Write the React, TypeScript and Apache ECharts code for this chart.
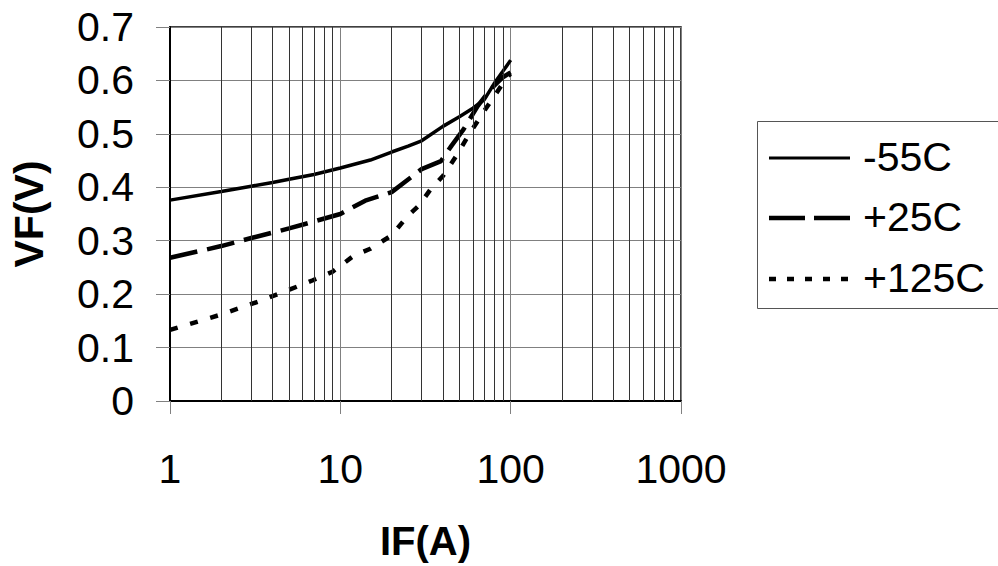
import React, { useEffect, useRef } from "react";
import * as echarts from "echarts";

const seriesNames = ["-55C", "+25C", "+125C"];

const ifMinus55 = [1, 2, 3, 4, 5, 7, 10, 15, 20, 25, 30, 40, 50, 60, 70, 80, 90, 100];
const vfMinus55 = [0.376, 0.392, 0.402, 0.409, 0.415, 0.424, 0.436, 0.451, 0.466, 0.477, 0.487, 0.514, 0.532, 0.548, 0.564, 0.594, 0.617, 0.638];

const ifPlus25 = [1, 2, 3, 5, 7, 10, 14, 20, 30, 39, 45, 53, 64, 76, 90, 100];
const vfPlus25 = [0.268, 0.29, 0.305, 0.323, 0.336, 0.35, 0.375, 0.391, 0.434, 0.449, 0.478, 0.509, 0.552, 0.583, 0.606, 0.615];

const ifPlus125 = [1, 2, 3.3, 4.9, 6.9, 9, 12, 15, 20, 25, 29, 34, 40, 48, 58, 71, 80, 96, 100];
const vfPlus125 = [0.133, 0.162, 0.186, 0.207, 0.226, 0.242, 0.272, 0.285, 0.31, 0.347, 0.366, 0.397, 0.421, 0.459, 0.503, 0.546, 0.57, 0.608, 0.612];

const minorGridValues = [2, 3, 4, 5, 6, 7, 8, 9, 20, 30, 40, 50, 60, 70, 80, 90, 200, 300, 400, 500, 600, 700, 800, 900];

const xTitle = "IF(A)";
const yTitle = "VF(V)";

const FONT = "Arial, 'Liberation Sans', sans-serif";

const lineWidths = [3.5, 4.5, 4.5];
const plotDashes: (number[] | "solid")[] = ["solid", [28, 10], [8, 13]];
const legendDashes: (number[] | null)[] = [null, [36, 9], [7, 11]];

function pairs(xs: number[], ys: number[]) {
  return xs.map((x, i) => [x, ys[i]]);
}

export default function App() {
  const ref = useRef<HTMLDivElement>(null);

  useEffect(() => {
    if (!ref.current) return;
    const chart = echarts.init(ref.current, undefined, { renderer: "svg" });

    const legendRowY = [158, 218, 279];
    const legendGraphics: any[] = [
      {
        type: "rect",
        left: 757,
        top: 121,
        shape: { width: 270, height: 187 },
        style: { fill: "#fff", stroke: "#555", lineWidth: 1 },
        z: 10,
      },
    ];
    seriesNames.forEach((name, i) => {
      legendGraphics.push({
        type: "line",
        shape: { x1: 769, y1: legendRowY[i], x2: 850, y2: legendRowY[i] },
        style: {
          stroke: "#000",
          lineWidth: i === 0 ? 3 : 4.5,
          lineDash: legendDashes[i] || undefined,
        },
        z: 11,
      });
      legendGraphics.push({
        type: "text",
        x: 863,
        y: legendRowY[i] - 1,
        style: {
          text: name,
          font: `41px ${FONT}`,
          fill: "#000",
          textAlign: "left",
          textVerticalAlign: "middle",
          verticalAlign: "middle",
        },
        z: 11,
      });
    });

    chart.setOption({
      animation: false,
      backgroundColor: "#fff",
      textStyle: { fontFamily: FONT },
      grid: {
        left: 169,
        right: 317,
        top: 27,
        bottom: 163,
        show: true,
        borderColor: "#000",
        borderWidth: 1.5,
        containLabel: false,
      },
      graphic: legendGraphics,
      xAxis: {
        type: "log",
        logBase: 10,
        min: 1,
        max: 1000,
        name: xTitle,
        nameLocation: "middle",
        nameGap: 120,
        nameTextStyle: { fontSize: 40, fontWeight: "bold", color: "#000", fontFamily: FONT },
        axisLine: { show: true, lineStyle: { color: "#000", width: 2 } },
        axisTick: { show: true, inside: false, length: 13, lineStyle: { color: "#808080", width: 1 } },
        axisLabel: {
          fontSize: 41,
          color: "#000",
          margin: 47,
          fontFamily: FONT,
          formatter: (v: number) => String(Math.round(v)),
        },
        splitLine: { show: true, lineStyle: { color: "#808080", width: 1 } },
        minorTick: { show: false },
        minorSplitLine: { show: false },
      },
      yAxis: {
        type: "value",
        min: 0,
        max: 0.7,
        interval: 0.1,
        name: yTitle,
        nameLocation: "middle",
        nameGap: 121,
        nameRotate: 90,
        nameTextStyle: { fontSize: 41, fontWeight: "bold", color: "#000", fontFamily: FONT },
        axisLine: { show: true, lineStyle: { color: "#000", width: 2 } },
        axisTick: { show: true, inside: false, length: 14, lineStyle: { color: "#808080", width: 1 } },
        axisLabel: {
          fontSize: 41,
          color: "#000",
          margin: 36,
          fontFamily: FONT,
          formatter: (v: number) => (Math.abs(v) < 1e-9 ? "0" : v.toFixed(1)),
        },
        splitLine: { show: true, lineStyle: { color: "#808080", width: 1 } },
      },
      series: [
        {
          name: "minorGrid",
          type: "line",
          data: [],
          silent: true,
          z: 1,
          markLine: {
            silent: true,
            symbol: ["none", "none"],
            label: { show: false },
            lineStyle: { color: "#333", width: 1, type: "solid" },
            emphasis: { disabled: true },
            data: minorGridValues.map((v) => ({ xAxis: v })),
          },
        },
        ...[
          pairs(ifMinus55, vfMinus55),
          pairs(ifPlus25, vfPlus25),
          pairs(ifPlus125, vfPlus125),
        ].map((d, i) => ({
          name: seriesNames[i],
          type: "line",
          z: 3,
          showSymbol: false,
          symbol: "none",
          data: d,
          lineStyle: { color: "#000", width: lineWidths[i], type: plotDashes[i] },
          itemStyle: { color: "#000" },
        })),
      ],
    });
    return () => chart.dispose();
  }, []);

  return (
    <div
      ref={ref}
      style={{ position: "fixed", left: 0, top: 0, width: 998, height: 566 }}
    />
  );
}
